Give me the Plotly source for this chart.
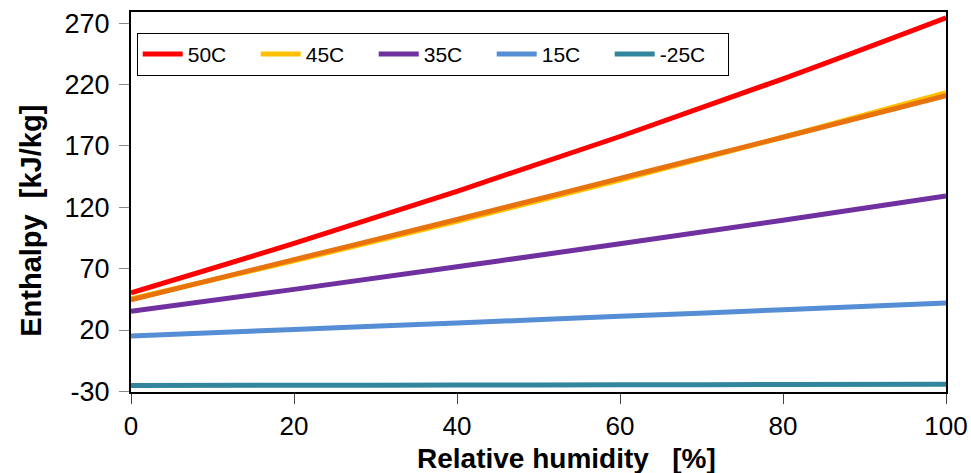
import plotly.graph_objects as go

rh = [0, 20, 40, 60, 80, 100]
h_50 = [50.3, 90.6, 133.0, 177.6, 224.6, 274.3]
h_45 = [45.3, 76.3, 108.5, 142.1, 177.0, 213.3]
h_45b = [44.5, 77.3, 110.0, 143.5, 177.0, 210.8]
h_35 = [35.2, 53.1, 71.5, 90.2, 109.4, 129.1]
h_15 = [15.1, 20.4, 25.7, 31.1, 36.5, 42.0]
h_m25 = [-25.2, -25.0, -24.8, -24.6, -24.4, -24.2]

x_ticks = [0, 20, 40, 60, 80, 100]
y_ticks = [-30, 20, 70, 120, 170, 220, 270]
y_ticktext = ["-30", "20", "70", "120", "170", "220", "270"]

x_title = "<b>Relative humidity   [%]</b>"
y_title = "<b>Enthalpy  [kJ/kg]</b>"

series = [
    ("50C", h_50, "#FF0000", True),
    ("45C", h_45, "#FFC000", True),
    ("45C fit", h_45b, "#E8720C", False),
    ("35C", h_35, "#7030A0", True),
    ("15C", h_15, "#558ED5", True),
    ("-25C", h_m25, "#31859C", True),
]

fig = go.Figure()
for name, ys, col, show in series:
    fig.add_trace(go.Scatter(x=rh, y=ys, mode="lines", name=name,
                             line=dict(color=col, width=5, shape="spline"),
                             showlegend=show))

fig.add_annotation(text=x_title, xref="paper", yref="paper", x=0.534, y=-0.175,
                   xanchor="center", yanchor="middle", showarrow=False,
                   font=dict(size=28, color="black"))
fig.add_annotation(text=y_title, xref="paper", yref="paper", x=-0.123, y=0.45,
                   xanchor="center", yanchor="middle", showarrow=False, textangle=-90,
                   font=dict(size=29, color="black"))

fig.update_layout(
    width=971, height=473,
    margin=dict(l=131, r=25, t=12, b=81),
    paper_bgcolor="white", plot_bgcolor="white",
    font=dict(family="Liberation Sans, Arial, sans-serif", size=27, color="black"),
    legend=dict(orientation="h", x=0.007, y=0.945, xanchor="left", yanchor="top",
                bordercolor="black", borderwidth=1, bgcolor="white",
                font=dict(size=21), itemwidth=40, entrywidth=63, entrywidthmode="pixels",
                tracegroupgap=0, itemsizing="constant"),
    xaxis=dict(range=[0, 100], tickvals=x_ticks, automargin=False,
               ticks="outside", ticklen=10, tickcolor="#444", tickwidth=1,
               tickfont=dict(size=26),
               showline=True, linecolor="black", linewidth=2, mirror=True,
               showgrid=False, zeroline=False),
    yaxis=dict(range=[-30.5, 279], tickvals=y_ticks, ticktext=y_ticktext, automargin=False,
               ticks="outside", ticklen=10, tickcolor="#888", tickwidth=1,
               ticklabelstandoff=4,
               showline=True, linecolor="black", linewidth=2, mirror=True,
               showgrid=False, zeroline=False),
)

fig.write_html("out.html")
